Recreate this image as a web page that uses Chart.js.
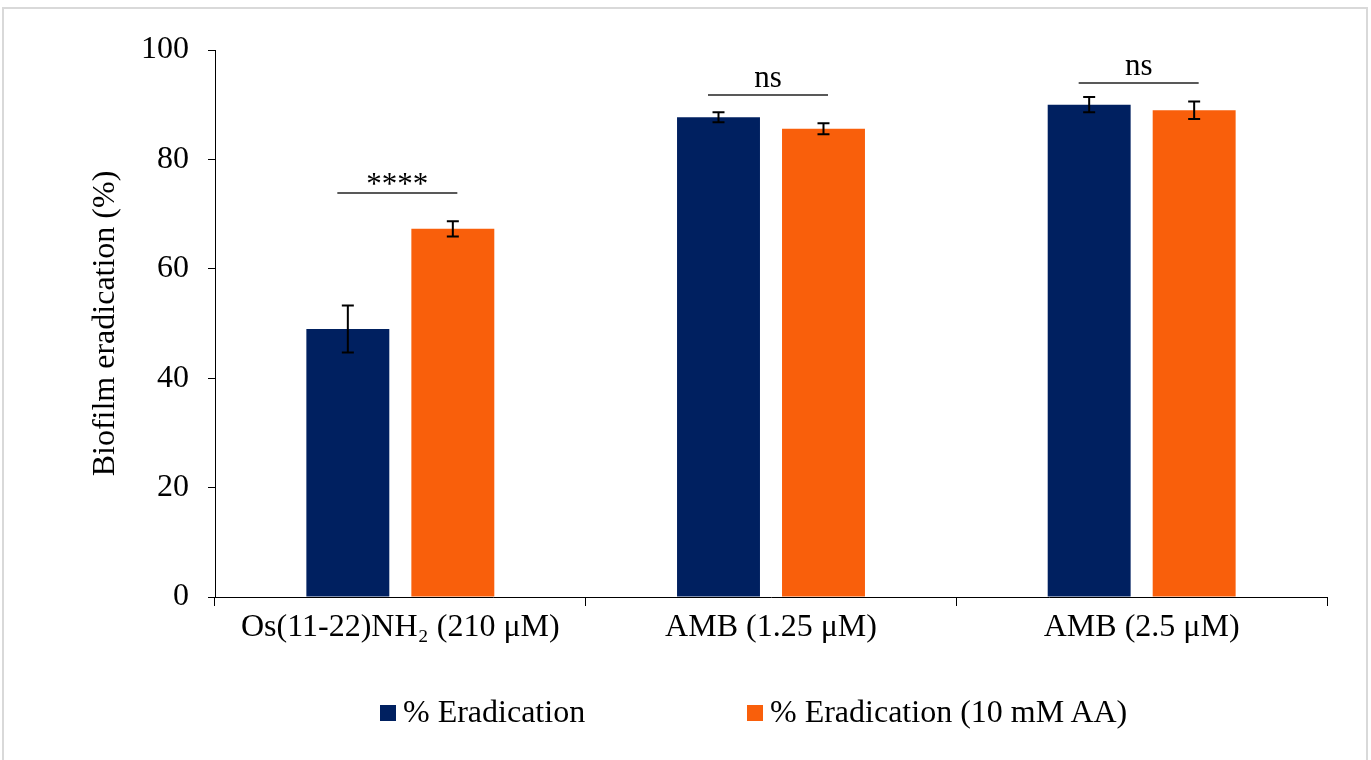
<!DOCTYPE html>
<html>
<head>
<meta charset="utf-8">
<script src="https://cdn.jsdelivr.net/npm/chart.js@4.4.0/dist/chart.umd.min.js"></script>
<style>
    html, body { margin: 0; padding: 0; background: #ffffff; }
    #wrap { position: relative; width: 1371px; height: 760px; overflow: hidden; background: #fff; }
    #frame { position: absolute; left: 2px; top: 7px; width: 1362px; height: 770px; border: 2px solid #d9d9d9; }
    #chartBox { position: absolute; left: 0; top: 0; width: 1371px; height: 760px; }
    .legend { position: absolute; top: 693px; font-family: 'Liberation Serif', 'Times New Roman', serif; font-size: 32px; color: #000; white-space: nowrap; }
    .legend i { display: inline-block; width: 16px; height: 16px; margin-right: 7px; vertical-align: 1px; }
</style>
</head>
<body>
<div id="wrap">
    <div id="frame"></div>
    <div id="chartBox"><canvas id="chart" width="1371" height="760"></canvas></div>
    <div class="legend" id="leg1" style="left:380px"><i style="background:#002060"></i>% Eradication</div>
    <div class="legend" id="leg2" style="left:747px"><i style="background:#F95F0B"></i>% Eradication (10 mM AA)</div>
</div>
<script>
// --- дані ---
const categories = ['Os(11-22)NH\u2082 (210 \u03bcM)', 'AMB (1.25 \u03bcM)', 'AMB (2.5 \u03bcM)'];
const eradication = [49.0, 87.7, 90.0];
const eradicationErr = [4.3, 0.9, 1.4];
const eradicationAA = [67.3, 85.6, 89.0];
const eradicationAAErr = [1.4, 1.0, 1.6];
const sigLabels = ['****', 'ns', 'ns'];
const sigLevels = [73.8, 91.8, 93.9];
const yTicks = [0, 20, 40, 60, 80, 100];

const FONT = "'Liberation Serif', 'Times New Roman', serif";
const NAVY = '#002060';
const ORANGE = '#F95F0B';

// планки похибок
const errorBars = {
    id: 'errorBars',
    afterDatasetsDraw(chart) {
        const ctx = chart.ctx;
        const y = chart.scales.y;
        chart.data.datasets.forEach((ds, i) => {
            const meta = chart.getDatasetMeta(i);
            meta.data.forEach((bar, j) => {
                const v = ds.data[j], e = ds.errors[j];
                const top = y.getPixelForValue(v + e);
                const bot = y.getPixelForValue(v - e);
                ctx.save();
                ctx.strokeStyle = '#000';
                ctx.lineWidth = 2;
                ctx.beginPath();
                ctx.moveTo(bar.x, top); ctx.lineTo(bar.x, bot);
                ctx.moveTo(bar.x - 6, top); ctx.lineTo(bar.x + 6, top);
                ctx.moveTo(bar.x - 6, bot); ctx.lineTo(bar.x + 6, bot);
                ctx.stroke();
                ctx.restore();
            });
        });
    }
};

// позначки значущості
const significance = {
    id: 'significance',
    afterDatasetsDraw(chart) {
        const ctx = chart.ctx;
        const y = chart.scales.y;
        const m0 = chart.getDatasetMeta(0), m1 = chart.getDatasetMeta(1);
        sigLabels.forEach((lab, j) => {
            const mid = (m0.data[j].x + m1.data[j].x) / 2 - 3;
            const ly = Math.round(y.getPixelForValue(sigLevels[j]));
            ctx.save();
            ctx.strokeStyle = '#595959';
            ctx.lineWidth = 2;
            ctx.beginPath();
            ctx.moveTo(mid - 60, ly); ctx.lineTo(mid + 60, ly);
            ctx.stroke();
            ctx.font = '31px ' + FONT;
            ctx.fillStyle = '#000';
            ctx.textAlign = 'center';
            ctx.textBaseline = 'alphabetic';
            const mt = ctx.measureText(lab);
            ctx.fillText(lab, mid, ly - 8 - mt.actualBoundingBoxDescent);
            ctx.restore();
        });
    }
};

new Chart(document.getElementById('chart'), {
    type: 'bar',
    data: {
        labels: categories,
        datasets: [
            { label: '% Eradication', data: eradication, errors: eradicationErr, backgroundColor: NAVY },
            { label: '% Eradication (10 mM AA)', data: eradicationAA, errors: eradicationAAErr, backgroundColor: ORANGE }
        ]
    },
    options: {
        responsive: false,
        animation: false,
        categoryPercentage: 0.5665,
        barPercentage: 0.79,
        layout: { padding: { left: 86, right: 44, top: 50, bottom: 100 } },
        plugins: { legend: { display: false }, tooltip: { enabled: false } },
        scales: {
            x: {
                afterFit: (s) => { s.height = 63; },
                grid: { offset: true, drawOnChartArea: false, drawTicks: true, tickLength: 9, color: '#000', lineWidth: 1 },
                border: { color: '#000', width: 1 },
                ticks: { color: '#000', font: { family: FONT, size: 32 }, padding: 2, maxRotation: 0 }
            },
            y: {
                min: 0, max: 100,
                afterFit: (s) => { s.width = 129; },
                afterBuildTicks: (s) => { s.ticks = yTicks.map(v => ({ value: v })); },
                grid: { drawOnChartArea: false, drawTicks: true, tickLength: 7, color: '#000', lineWidth: 1 },
                border: { color: '#000', width: 1 },
                ticks: { color: '#000', font: { family: FONT, size: 32 }, padding: 19 },
                title: { display: true, text: 'Biofilm eradication (%)', color: '#000', font: { family: FONT, size: 32 }, padding: 0 }
            }
        }
    },
    plugins: [errorBars, significance]
});
</script>
</body>
</html>
